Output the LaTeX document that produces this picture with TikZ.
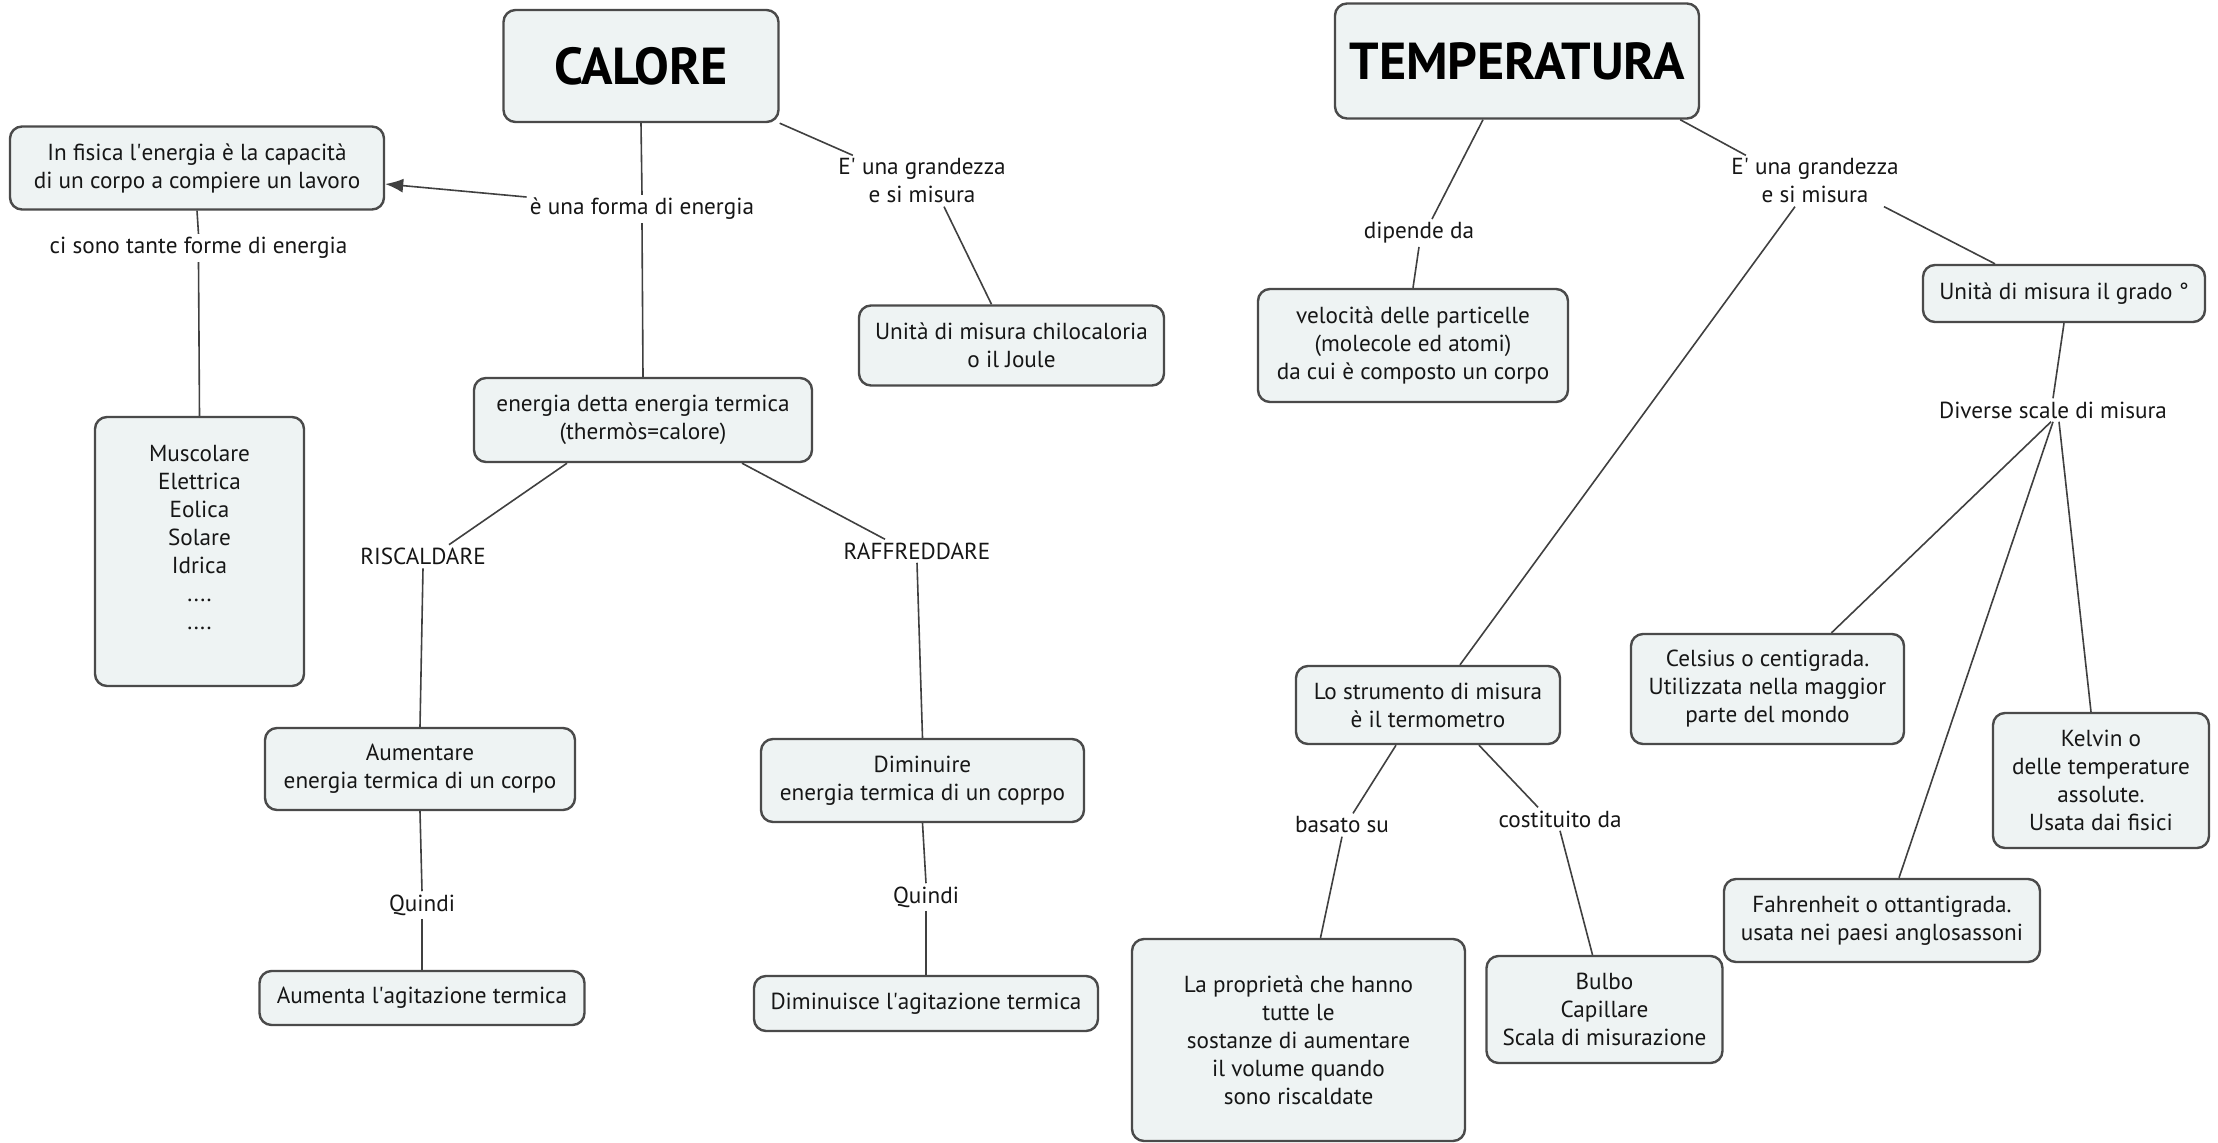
\documentclass[tikz,border=0pt]{standalone}
\usepackage{fontspec}
\setmainfont{PT Sans}
\usetikzlibrary{arrows.meta}
\definecolor{boxfill}{HTML}{EEF3F3}
\definecolor{boxline}{HTML}{4A4A4A}
\definecolor{linkcol}{HTML}{404040}
\definecolor{txt}{HTML}{161616}
\newcommand{\apos}{\textquotesingle}
\begin{document}
\begin{tikzpicture}[x=0.5pt,y=-0.5pt,
  box/.style={draw=boxline, fill=boxfill, rounded corners=6pt, line width=1.2pt,
    align=center, inner sep=0pt, text=txt, font=\fontsize{11.6}{14}\selectfont},
  title/.style={box, font=\fontsize{26}{30}\selectfont\bfseries, text=black},
  lbl/.style={inner sep=1.5pt, align=center, text=txt, font=\fontsize{11.6}{14}\selectfont},
  link/.style={draw=linkcol, line width=0.8pt},
  arr/.style={link, -{Latex[length=9pt,width=7pt]}}]
\useasboundingbox (0,0) rectangle (2218,1142);
\fill[white] (0,0) rectangle (2218,1142);

% ---- boxes ----
\node[title, minimum width=137.5pt, minimum height=56pt] (calore) at (641,66) {CALORE};
\node[title, minimum width=182pt, minimum height=57.5pt] (temp) at (1517,61) {TEMPERATURA};
\node[box, minimum width=187pt, minimum height=41.5pt] (fisica) at (197,168) {In fisica l\apos energia è la capacità\\di un corpo a compiere un lavoro};
\node[box, minimum width=152.5pt, minimum height=40pt] (chilo) at (1011.5,345.5) {Unità di misura chilocaloria\\o il Joule};
\node[box, minimum width=104.5pt, minimum height=134.5pt] (musc) at (199.5,551.5) {Muscolare\\Elettrica\\Eolica\\Solare\\Idrica\\....\\....\\~};
\node[box, minimum width=169pt, minimum height=42pt] (energia) at (643,420) {energia detta energia termica\\(thermòs=calore)};
\node[box, minimum width=155pt, minimum height=41pt] (aumentare) at (420,769) {Aumentare\\energia termica di un corpo};
\node[box, minimum width=162.5pt, minimum height=27pt] (aumenta) at (422,998) {Aumenta l\apos agitazione termica};
\node[box, minimum width=161.5pt, minimum height=41.5pt] (diminuire) at (922.5,780.5) {Diminuire\\energia termica di un coprpo};
\node[box, minimum width=172pt, minimum height=27.5pt] (diminuisce) at (926,1003.5) {Diminuisce l\apos agitazione termica};
\node[box, minimum width=155pt, minimum height=56.5pt] (velocita) at (1413,345.5) {velocità delle particelle\\(molecole ed atomi)\\da cui è composto un corpo};
\node[box, minimum width=141pt, minimum height=28.5pt] (grado) at (2064,293.5) {Unità di misura il grado °};
\node[box, minimum width=132pt, minimum height=39pt] (strumento) at (1428,705) {Lo strumento di misura\\è il termometro};
\node[box, minimum width=136.5pt, minimum height=55pt] (celsius) at (1767.5,689) {Celsius o centigrada.\\Utilizzata nella maggior\\parte del mondo};
\node[box, minimum width=108pt, minimum height=67.5pt] (kelvin) at (2101,780.5) {Kelvin o\\delle temperature\\assolute.\\Usata dai fisici};
\node[box, minimum width=158pt, minimum height=41.5pt] (fahrenheit) at (1882,920.5) {Fahrenheit o ottantigrada.\\usata nei paesi anglosassoni};
\node[box, minimum width=166.5pt, minimum height=101pt] (proprieta) at (1298.5,1040) {La proprietà che hanno\\tutte le\\sostanze di aumentare\\il volume quando\\sono riscaldate};
\node[box, minimum width=118pt, minimum height=53.5pt] (bulbo) at (1604.5,1009.5) {Bulbo\\Capillare\\Scala di misurazione};

% ---- link labels ----
\node[lbl] (forma) at (642,209) {è una forma di energia};
\node[lbl] (grand1) at (922,181) {E\apos\ una grandezza\\e si misura};
\node[lbl] (forme) at (198.5,248) {ci sono tante forme di energia};
\node[lbl] (risc) at (423,556.5) {RISCALDARE};
\node[lbl] (raff) at (917,551) {RAFFREDDARE};
\node[lbl] (q1) at (422,905) {Quindi};
\node[lbl] (q2) at (926,897) {Quindi};
\node[lbl] (dipende) at (1419,233) {dipende da};
\node[lbl] (grand2) at (1815,181) {E\apos\ una grandezza\\e si misura};
\node[lbl] (diverse) at (2053,410) {Diverse scale di misura};
\node[lbl] (basato) at (1342,825) {basato su};
\node[lbl] (costituito) at (1560,819) {costituito da};

% ---- connectors ----
\draw[link] (calore.south) -- (forma.north);
\draw[link] (forma.south) -- (energia.north);
\draw[arr] ([yshift=6pt]forma.west) -- ([yshift=-8pt]fisica.east);
\draw[link] (calore.south east) -- ([xshift=9pt]grand1.north west);
\draw[link] ([xshift=11pt]grand1.south) -- ([xshift=-10pt]chilo.north);
\draw[link] (fisica.south) -- (forme.north);
\draw[link] (forme.south) -- (musc.north);
\draw[link] ([xshift=-38pt]energia.south) -- ([xshift=13pt]risc.north);
\draw[link] ([xshift=49.5pt]energia.south) -- ([xshift=-16pt]raff.north);
\draw[link] (risc.south) -- (aumentare.north);
\draw[link] (aumentare.south) -- (q1.north);
\draw[link] (q1.south) -- (aumenta.north);
\draw[link] (raff.south) -- (diminuire.north);
\draw[link] (diminuire.south) -- (q2.north);
\draw[link] (q2.south) -- (diminuisce.north);
\draw[link] ([xshift=-17pt]temp.south) -- ([xshift=6.5pt]dipende.north);
\draw[link] (dipende.south) -- (velocita.north);
\draw[link] ([xshift=-10pt]temp.south east) -- ([xshift=9pt]grand2.north west);
\draw[link] ([xshift=34.5pt]grand2.south) -- ([xshift=-34.5pt]grado.north);
\draw[link] ([xshift=-10pt]grand2.south) -- ([xshift=16pt]strumento.north);
\draw[link] (grado.south) -- (diverse.north);
\draw[link] ([xshift=-1pt]diverse.south) -- ([xshift=32pt]celsius.north);
\draw[link] (diverse.south) -- ([xshift=8.5pt]fahrenheit.north);
\draw[link] ([xshift=3pt]diverse.south) -- ([xshift=-5pt]kelvin.north);
\draw[link] ([xshift=-16pt]strumento.south) -- ([xshift=5.5pt]basato.north);
\draw[link] (basato.south) -- ([xshift=11pt]proprieta.north);
\draw[link] ([xshift=25.5pt]strumento.south) -- ([xshift=-11pt]costituito.north);
\draw[link] (costituito.south) -- ([xshift=-6pt]bulbo.north);
\end{tikzpicture}
\end{document}
